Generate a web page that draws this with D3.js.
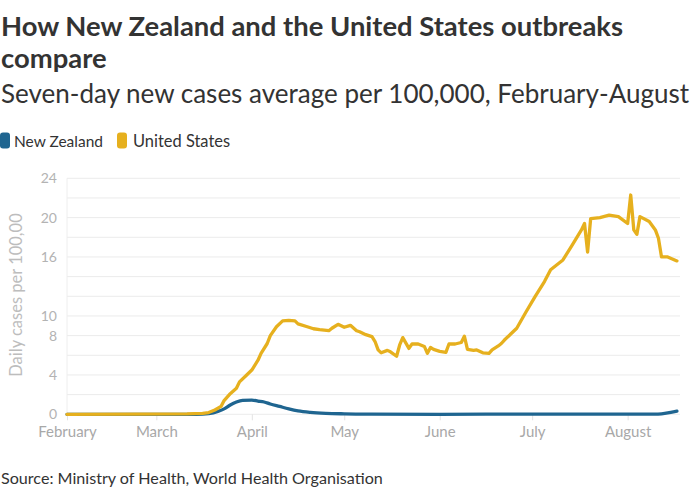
<!DOCTYPE html>
<html>
<head>
<meta charset="utf-8">
<script src="https://cdn.jsdelivr.net/npm/d3@7"></script>
<style>
  html, body { margin: 0; padding: 0; background: #fff; overflow: hidden; }
  svg { display: block; font-family: "Lato", "Noto Sans", sans-serif; }
</style>
</head>
<body>
<svg id="chart" width="700" height="500"></svg>
<script>
// ---- Data ----
const seriesNames = ["New Zealand", "United States"];
const seriesColors = ["#1f6590", "#e6b01e"];

const usDates = ["2020-02-01","2020-02-24","2020-03-11","2020-03-16","2020-03-18","2020-03-20","2020-03-22","2020-03-23","2020-03-25","2020-03-27","2020-03-28","2020-03-30","2020-04-01","2020-04-03","2020-04-04","2020-04-06","2020-04-07","2020-04-09","2020-04-11","2020-04-13","2020-04-15","2020-04-16","2020-04-19","2020-04-21","2020-04-23","2020-04-26","2020-04-27","2020-04-29","2020-04-30","2020-05-01","2020-05-03","2020-05-05","2020-05-06","2020-05-08","2020-05-10","2020-05-11","2020-05-12","2020-05-13","2020-05-15","2020-05-16","2020-05-18","2020-05-19","2020-05-20","2020-05-22","2020-05-23","2020-05-25","2020-05-27","2020-05-28","2020-05-29","2020-05-30","2020-06-01","2020-06-03","2020-06-04","2020-06-06","2020-06-08","2020-06-09","2020-06-10","2020-06-12","2020-06-13","2020-06-15","2020-06-17","2020-06-18","2020-06-20","2020-06-21","2020-06-22","2020-06-26","2020-06-29","2020-07-02","2020-07-05","2020-07-07","2020-07-11","2020-07-14","2020-07-17","2020-07-18","2020-07-19","2020-07-20","2020-07-23","2020-07-26","2020-07-29","2020-08-01","2020-08-02","2020-08-03","2020-08-04","2020-08-05","2020-08-08","2020-08-10","2020-08-11","2020-08-12","2020-08-14","2020-08-17"];
const usValues = [0,0.02,0.05,0.1,0.18,0.44,0.8,1.4,2.1,2.65,3.3,3.9,4.5,5.5,6.2,7.2,8.0,8.9,9.5,9.55,9.5,9.2,8.9,8.7,8.6,8.5,8.75,9.15,9.0,8.85,9.05,8.5,8.4,8.1,7.9,7.4,6.55,6.25,6.5,6.35,5.9,7.05,7.8,6.7,7.15,7.15,6.9,6.2,6.8,6.6,6.4,6.3,7.15,7.15,7.3,7.95,6.6,6.5,6.55,6.25,6.2,6.55,6.95,7.2,7.55,8.75,10.4,12.0,13.5,14.7,15.7,17.2,18.75,19.4,16.5,19.9,20.0,20.25,20.1,19.4,22.3,18.75,18.3,20.1,19.6,18.75,17.9,16.0,16.0,15.6];

const nzDates = ["2020-02-01","2020-03-14","2020-03-18","2020-03-21","2020-03-23","2020-03-25","2020-03-27","2020-03-29","2020-04-01","2020-04-03","2020-04-05","2020-04-07","2020-04-10","2020-04-13","2020-04-16","2020-04-20","2020-04-25","2020-05-01","2020-05-10","2020-06-01","2020-07-01","2020-08-10","2020-08-12","2020-08-15","2020-08-17"];
const nzValues = [0,0,0.08,0.3,0.55,0.95,1.25,1.42,1.45,1.35,1.25,1.05,0.8,0.55,0.35,0.2,0.1,0.05,0.02,0,0.02,0.01,0.05,0.2,0.32];

const monthTicks = ["2020-02-01","2020-03-01","2020-04-01","2020-05-01","2020-06-01","2020-07-01","2020-08-01"];
const yTickLabels = [0, 4, 8, 10, 16, 20, 24];
const yGridValues = [0,2,4,6,8,10,12,14,16,18,20,22,24];

const titleLines = ["How New Zealand and the United States outbreaks", "compare"];
const subtitleText = "Seven-day new cases average per 100,000, February-August";
const yAxisTitle = "Daily cases per 100,00";
const sourceText = "Source: Ministry of Health, World Health Organisation";

// ---- Drawing ----
const svg = d3.select("#chart");
const parse = d3.timeParse("%Y-%m-%d");

const x = d3.scaleTime()
  .domain([parse("2020-02-01"), parse("2020-08-18")])
  .range([67, 680]);
const y = d3.scaleLinear().domain([0, 24]).range([414.3, 178.3]);

function fitWidth(sel, target) {
  const node = sel.node();
  let fs = parseFloat(sel.attr("font-size"));
  for (let i = 0; i < 4; i++) {
    const w = node.getComputedTextLength();
    if (w > 0) fs = fs * target / w;
    sel.attr("font-size", fs);
  }
}

// Title
const t1 = svg.append("text").attr("x", 1).attr("y", 36)
  .attr("font-size", 24).attr("font-weight", 700).attr("fill", "#333")
  .text(titleLines[0]);
fitWidth(t1, 622);
svg.append("text").attr("x", 1).attr("y", 68)
  .attr("font-size", t1.attr("font-size")).attr("font-weight", 700).attr("fill", "#333")
  .text(titleLines[1]);

const sub = svg.append("text").attr("x", 1).attr("y", 103)
  .attr("font-size", 22).attr("font-weight", 400).attr("fill", "#333")
  .text(subtitleText);
fitWidth(sub, 688);

// Legend
const legend = svg.append("g");
const legX = [0, 117];
const legTextX = [14, 133];
const legTextW = [89, 97];
seriesNames.forEach((name, i) => {
  legend.append("rect").attr("x", legX[i]).attr("y", 132.5).attr("width", 10).attr("height", 16)
    .attr("rx", 3).attr("fill", seriesColors[i]);
  const lt = legend.append("text").attr("x", legTextX[i]).attr("y", 146.5)
    .attr("font-size", 16).attr("fill", "#333").text(name);
  fitWidth(lt, legTextW[i]);
});

// Gridlines
svg.append("g").selectAll("line").data(yGridValues).join("line")
  .attr("x1", 67).attr("x2", 680)
  .attr("y1", d => y(d)).attr("y2", d => y(d))
  .attr("stroke", "#ebebeb").attr("stroke-width", 1);

// Y-axis vertical line
svg.append("line").attr("x1", 67).attr("x2", 67).attr("y1", y(24)).attr("y2", y(0))
  .attr("stroke", "#eeeeee");

// Y axis labels
const yAxis = d3.axisLeft(y).tickValues(yTickLabels).tickSize(0).tickPadding(10);
const yG = svg.append("g").attr("transform", "translate(67,0)").call(yAxis);
yG.select(".domain").remove();
yG.selectAll("text").attr("font-size", 14).attr("fill", "#b3b3b3")
  .attr("font-family", "Lato, sans-serif");

// X axis
const xAxis = d3.axisBottom(x).tickValues(monthTicks.map(parse))
  .tickFormat(d3.timeFormat("%B")).tickSize(6).tickPadding(6);
const xG = svg.append("g").attr("transform", `translate(0,${y(0)})`).call(xAxis);
xG.select(".domain").remove();
xG.selectAll("line").attr("stroke", "#e3e3e3");
xG.selectAll("text").attr("font-size", 15).attr("fill", "#a8a8a8")
  .attr("font-family", "Lato, sans-serif");

// Y axis title
svg.append("text")
  .attr("transform", "translate(22,295) rotate(-90)")
  .attr("text-anchor", "middle").attr("font-size", 16.5).attr("fill", "#bdbdbd")
  .text(yAxisTitle);

// Lines
const line = d3.line().x(d => x(d.date)).y(d => y(d.value)).curve(d3.curveLinear);
const nzData = nzDates.map((d, i) => ({date: parse(d), value: nzValues[i]}));
const usData = usDates.map((d, i) => ({date: parse(d), value: usValues[i]}));

svg.append("path").datum(nzData).attr("d", d3.line().x(d => x(d.date)).y(d => y(d.value)).curve(d3.curveMonotoneX))
  .attr("fill", "none").attr("stroke", seriesColors[0]).attr("stroke-width", 3.3)
  .attr("stroke-linejoin", "round").attr("stroke-linecap", "round");
svg.append("path").datum(usData).attr("d", line)
  .attr("fill", "none").attr("stroke", seriesColors[1]).attr("stroke-width", 3.3)
  .attr("stroke-linejoin", "round").attr("stroke-linecap", "round");

// Source
const src = svg.append("text").attr("x", 1).attr("y", 484)
  .attr("font-size", 16).attr("fill", "#333").text(sourceText);
fitWidth(src, 382);
</script>
</body>
</html>
